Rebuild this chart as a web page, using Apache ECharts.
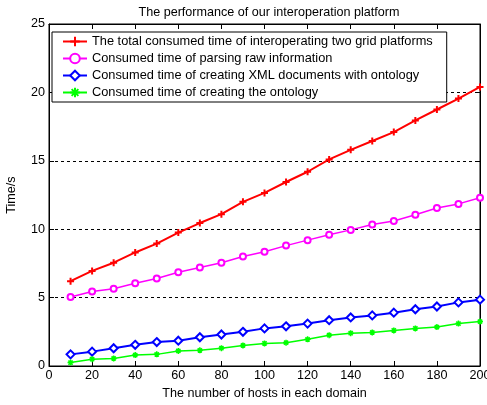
<!DOCTYPE html>
<html>
<head>
<meta charset="utf-8">
<script src="https://cdn.jsdelivr.net/npm/echarts@6/dist/echarts.min.js"></script>
<style>
  html, body { margin: 0; padding: 0; background: #fff; }
  #main { width: 487px; height: 405px; }
</style>
</head>
<body>
<div id="main"></div>
<script>
// hosts per domain (x values)
var hosts = [10, 20, 30, 40, 50, 60, 70, 80, 90, 100, 110, 120, 130, 140, 150, 160, 170, 180, 190, 200];
// consumed times in seconds
var totalTime = [6.2, 6.95, 7.55, 8.3, 8.95, 9.75, 10.45, 11.1, 12.0, 12.65, 13.45, 14.2, 15.1, 15.8, 16.45, 17.1, 17.95, 18.75, 19.55, 20.4];
var parseTime = [5.05, 5.45, 5.65, 6.05, 6.4, 6.85, 7.2, 7.55, 8.0, 8.35, 8.8, 9.2, 9.6, 9.95, 10.35, 10.6, 11.05, 11.55, 11.85, 12.3];
var xmlTime = [0.85, 1.05, 1.3, 1.55, 1.75, 1.85, 2.1, 2.3, 2.5, 2.75, 2.9, 3.1, 3.35, 3.55, 3.7, 3.9, 4.15, 4.35, 4.65, 4.85];
var ontoTime = [0.25, 0.5, 0.55, 0.8, 0.85, 1.1, 1.15, 1.3, 1.5, 1.65, 1.7, 1.95, 2.25, 2.4, 2.45, 2.6, 2.75, 2.85, 3.1, 3.25];
var seriesNames = [
  'The total consumed time of interoperating two grid platforms',
  'Consumed time of parsing raw information',
  'Consumed time of creating XML documents with ontology',
  'Consumed time of creating the ontology'
];
var xTicks = [0, 20, 40, 60, 80, 100, 120, 140, 160, 180, 200];
var yTicks = [0, 5, 10, 15, 20, 25];

function pairs(ys) {
  return hosts.map(function (x, i) { return [x, ys[i]]; });
}

var chart = echarts.init(document.getElementById('main'));
var font = 'Liberation Sans, Arial, sans-serif';

// 线条状的标记 (加号 / 星号)
var plusPath = 'path://M5,0L5,10M0,5L10,5';
var starPath = 'path://M5,0L5,10M0,5L10,5M1.5,1.5L8.5,8.5M8.5,1.5L1.5,8.5';

var option = {
  backgroundColor: '#fff',
  title: {
    text: 'The performance of our interoperation platform',
    left: 264,
    textAlign: 'center',
    top: 1,
    textStyle: { fontSize: 12.6, fontWeight: 'normal', color: '#000', fontFamily: font }
  },
  legend: {
    orient: 'vertical',
    left: 52,
    top: 32,
    data: seriesNames,
    backgroundColor: '#fff',
    borderColor: '#000',
    borderWidth: 1,
    borderRadius: 0,
    padding: [3, 14, 3, 10],
    itemGap: 4,
    itemWidth: 24,
    itemHeight: 12,
    textStyle: { fontSize: 12.8, color: '#000', fontFamily: font }
  },
  // 方框四边
  grid: {
    left: 49, right: 7, top: 24, bottom: 39, outerBoundsMode: 'none',
    show: true, borderColor: '#000', borderWidth: 1, backgroundColor: 'transparent'
  },
  xAxis: [{
    type: 'value',
    min: 0, max: 200, interval: 20,
    name: 'The number of hosts in each domain',
    nameLocation: 'middle',
    nameGap: 21,
    nameTextStyle: { fontSize: 12.6, color: '#000', fontFamily: font },
    axisLine: { lineStyle: { color: '#000', width: 1 } },
    axisTick: { inside: true, length: 5, lineStyle: { color: '#000' } },
    axisLabel: { fontSize: 12.6, color: '#000', margin: 3, fontFamily: font,
      formatter: function (v) { return xTicks.indexOf(v) >= 0 ? String(v) : ''; } },
    splitLine: { show: false }
  }, {
    // 上边的刻度
    type: 'value', position: 'top',
    min: 0, max: 200, interval: 20,
    axisLine: { show: true, onZero: false, lineStyle: { color: '#000', width: 1 } },
    axisTick: { show: true, inside: true, length: 5, lineStyle: { color: '#000', width: 1 } },
    axisLabel: { show: true, color: 'rgba(0,0,0,0)' },
    splitLine: { show: false }
  }],
  yAxis: [{
    type: 'value',
    min: 0, max: 25, interval: 5,
    name: 'Time/s',
    nameLocation: 'middle',
    nameGap: 31,
    nameTextStyle: { fontSize: 12.6, color: '#000', fontFamily: font },
    axisLine: { show: true, lineStyle: { color: '#000', width: 1 } },
    axisTick: { show: true, inside: true, length: 5, lineStyle: { color: '#000' } },
    axisLabel: { fontSize: 12.6, color: '#000', margin: 4, fontFamily: font,
      formatter: function (v) { return yTicks.indexOf(v) >= 0 ? String(v) : ''; } },
    splitLine: { show: true, lineStyle: { color: '#000', type: [3, 3], width: 1 } }
  }, {
    // 右边的刻度
    type: 'value', position: 'right',
    min: 0, max: 25, interval: 5,
    axisLine: { show: true, onZero: false, lineStyle: { color: '#000', width: 1 } },
    axisTick: { show: true, inside: true, length: 5, lineStyle: { color: '#000', width: 1 } },
    axisLabel: { show: true, color: 'rgba(0,0,0,0)' },
    splitLine: { show: false }
  }],
  series: [
    {
      name: seriesNames[0], type: 'line', data: pairs(totalTime),
      symbol: plusPath, symbolSize: 7,
      lineStyle: { color: '#ff0000', width: 2 },
      itemStyle: { color: '#ff0000', borderColor: '#ff0000', borderWidth: 2 }
    },
    {
      name: seriesNames[1], type: 'line', data: pairs(parseTime),
      symbol: 'emptyCircle', symbolSize: 6,
      lineStyle: { color: '#ff00ff', width: 1.5 },
      itemStyle: { color: '#ff00ff', borderColor: '#ff00ff', borderWidth: 2 }
    },
    {
      name: seriesNames[2], type: 'line', data: pairs(xmlTime),
      symbol: 'emptyDiamond', symbolSize: 8,
      lineStyle: { color: '#0000ff', width: 2 },
      itemStyle: { color: '#0000ff', borderColor: '#0000ff', borderWidth: 2 }
    },
    {
      name: seriesNames[3], type: 'line', data: pairs(ontoTime),
      symbol: starPath, symbolSize: 6,
      lineStyle: { color: '#00ff00', width: 1.5 },
      itemStyle: { color: '#00ff00', borderColor: '#00ff00', borderWidth: 1.5 }
    },
    // 空系列, 挂在上/右副轴上
    { type: 'line', xAxisIndex: 1, yAxisIndex: 1, data: [], silent: true }
  ],
  animation: false
};

chart.setOption(option);
</script>
</body>
</html>
